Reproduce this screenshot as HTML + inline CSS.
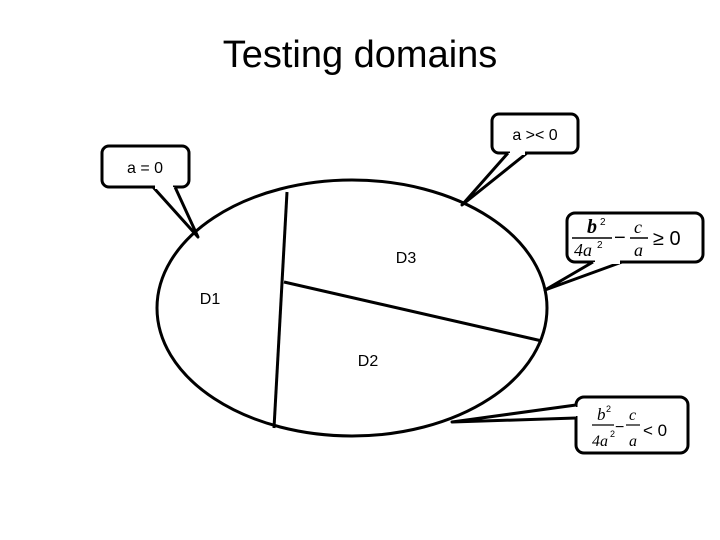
<!DOCTYPE html>
<html><head><style>
html,body{margin:0;padding:0;background:#fff;}
svg{display:block;}
text{font-family:"Liberation Sans",sans-serif;}
.m{font-family:"Liberation Serif",serif;font-style:italic;}
</style></head><body>
<svg width="720" height="540" viewBox="0 0 720 540">
<text x="360" y="67" font-size="38" text-anchor="middle" fill="#000">Testing domains</text>
<g stroke="#000" stroke-width="3" fill="none">
<ellipse cx="352" cy="308" rx="195" ry="128"/>
<line x1="287" y1="192" x2="274" y2="428"/>
<line x1="284" y1="282" x2="542" y2="341"/>
</g>
<g stroke="#000" stroke-width="3" fill="#fff" stroke-linejoin="round">
<rect x="102" y="146" width="87" height="41" rx="7"/>
<polyline points="153,187 198,237 175,187"/>
<line x1="155" y1="187" x2="173" y2="187" stroke="#fff" stroke-width="4"/>
<rect x="492" y="114" width="86" height="39" rx="7"/>
<polyline points="508,153 462,205 527,153"/>
<line x1="510" y1="153" x2="525" y2="153" stroke="#fff" stroke-width="4"/>
<rect x="567" y="213" width="136" height="49" rx="8"/>
<polyline points="593,262 545,290 622,262"/>
<line x1="595" y1="262" x2="620" y2="262" stroke="#fff" stroke-width="4"/>
<rect x="576" y="397" width="112" height="56" rx="8"/>
<polyline points="576,405 452,422 576,418"/>
<line x1="576" y1="407" x2="576" y2="416" stroke="#fff" stroke-width="4"/>
</g>
<g font-size="16" fill="#000">
<text x="145" y="173" text-anchor="middle">a = 0</text>
<text x="535" y="140" text-anchor="middle">a &gt;&lt; 0</text>
<text x="210" y="304" text-anchor="middle">D1</text>
<text x="406" y="263" text-anchor="middle">D3</text>
<text x="368" y="366" text-anchor="middle">D2</text>
</g>
<g fill="#000">
<text class="m" x="587" y="233" font-size="20" font-weight="bold">b</text>
<text x="600" y="225" font-size="10">2</text>
<line x1="572" y1="238" x2="612" y2="238" stroke="#000" stroke-width="1.5"/>
<text class="m" x="574" y="256" font-size="18">4a</text>
<text x="597" y="248" font-size="10">2</text>
<text x="614" y="244" font-size="20">−</text>
<text class="m" x="634" y="233" font-size="18">c</text>
<line x1="630" y1="238" x2="648" y2="238" stroke="#000" stroke-width="1.5"/>
<text class="m" x="634" y="256" font-size="18">a</text>
<text x="653" y="245" font-size="20">≥ 0</text>

<text class="m" x="597" y="420" font-size="17">b</text>
<text x="606" y="412" font-size="9">2</text>
<line x1="592" y1="425" x2="614" y2="425" stroke="#000" stroke-width="1.2"/>
<text class="m" x="592" y="446" font-size="16" font-style="normal">4a</text>
<text x="610" y="437" font-size="9">2</text>
<text x="615" y="432" font-size="16">−</text>
<text class="m" x="629" y="420" font-size="16">c</text>
<line x1="626" y1="425" x2="640" y2="425" stroke="#000" stroke-width="1.2"/>
<text class="m" x="629" y="446" font-size="16">a</text>
<text x="643" y="436" font-size="17" font-family="Liberation Serif">&lt; 0</text>
</g>
</svg>
</body></html>
